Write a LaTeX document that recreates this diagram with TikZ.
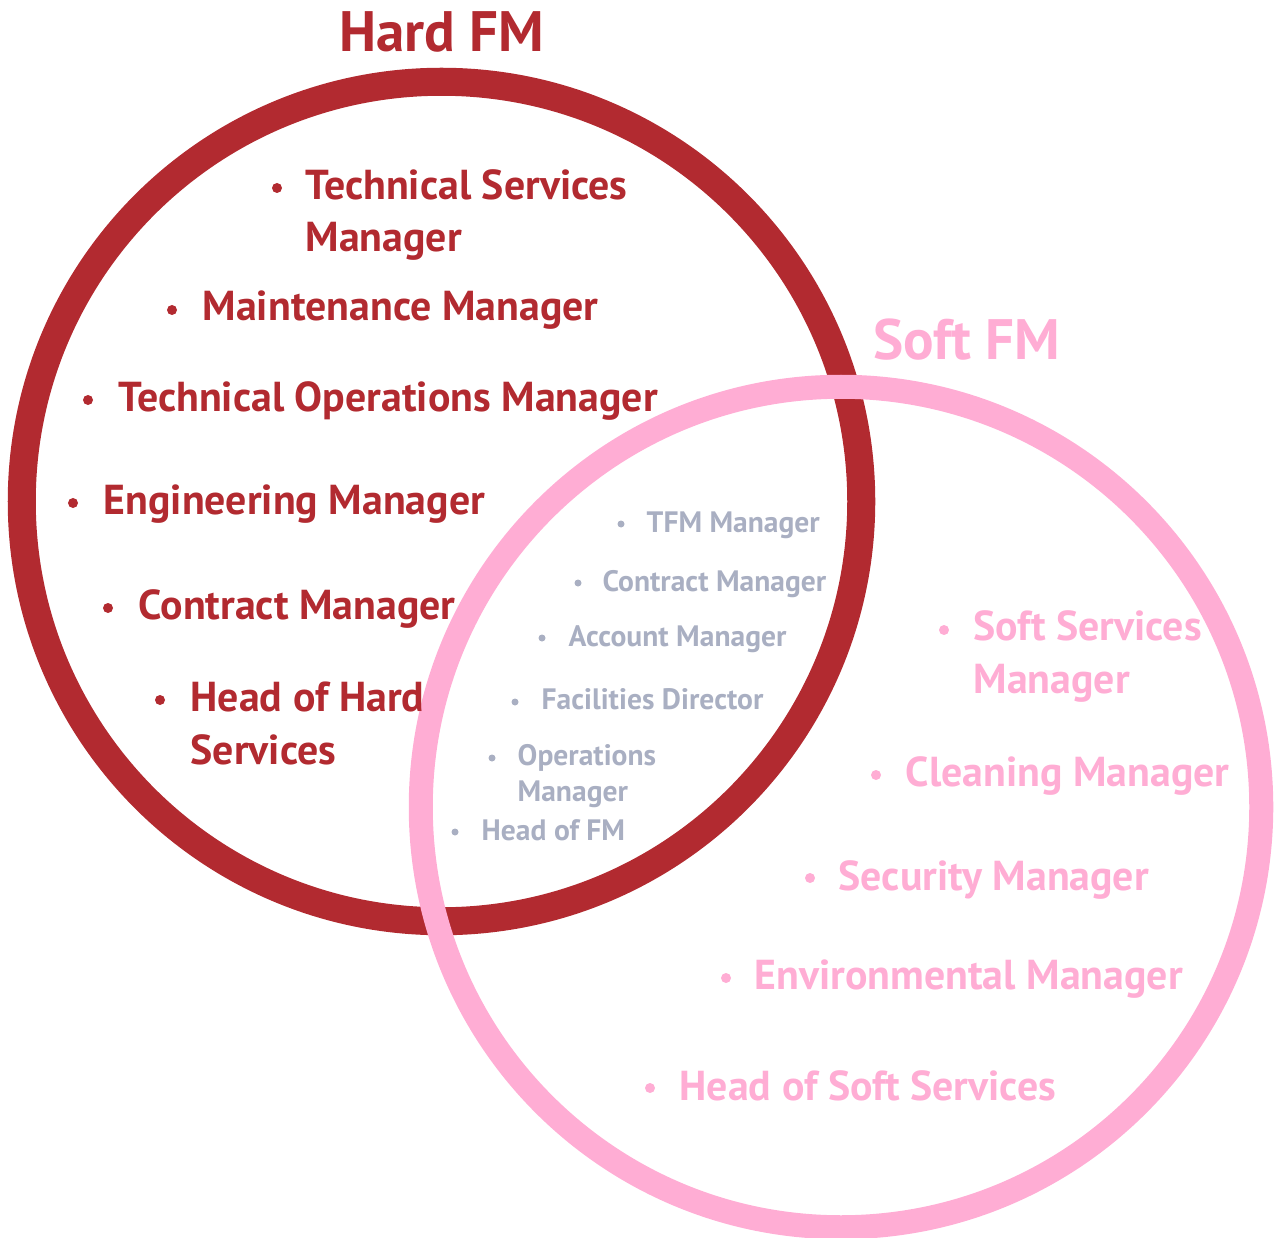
\documentclass[tikz,border=0pt]{standalone}
\usepackage{fontspec}
\setmainfont{PT Sans}
\usepackage{tikz}
\definecolor{hardred}{RGB}{178,42,48}
\definecolor{softpink}{RGB}{255,173,212}
\definecolor{bothgrey}{RGB}{169,175,194}

\begin{document}
\begin{tikzpicture}[x=0.01cm,y=-0.01cm,
    title/.style={font=\bfseries\fontsize{16.2}{18}\selectfont,anchor=base,inner sep=0pt},
    hard/.style={text=hardred,font=\bfseries\fontsize{11.9}{14.8}\selectfont,align=left,anchor=base west,inner sep=0pt},
    soft/.style={text=softpink,font=\bfseries\fontsize{11.9}{14.8}\selectfont,align=left,anchor=base west,inner sep=0pt},
    both/.style={text=bothgrey,font=\bfseries\fontsize{8.4}{10.2}\selectfont,align=left,anchor=base west,inner sep=0pt}]
    \useasboundingbox (0,0) rectangle (1274,1237);
    % circles
    \draw[hardred, line width=0.28cm] (441.5,501.5) circle [radius=4.195cm];
    \draw[softpink, line width=0.24cm] (841,807) circle [radius=4.2cm];
    % titles
    \node[title, text=hardred] (hardfm) at (442,52) {Hard FM};
    \node[title, text=softpink] (softfm) at (967,360) {Soft FM};
    % hard FM roles (base = last line)
    \node[hard] (tsm) at (305,252) {Technical Services\\Manager};
    \node[hard] (mm) at (202,321) {Maintenance Manager};
    \node[hard] (tom) at (118,411) {Technical Operations Manager};
    \node[hard] (em) at (103,514) {Engineering Manager};
    \node[hard] (cmh) at (138,619) {Contract Manager};
    \node[hard] (hhs) at (190,764) {Head of Hard\\Services};
    \foreach \x/\y in {277/188, 172/310, 88/400, 73/503, 108/608, 160/700}
        \fill[hardred] (\x,\y) circle [radius=0.05cm];
    % shared roles
    \node[both] (tfm) at (646,532) {TFM Manager};
    \node[both] (cmb) at (602,591) {Contract Manager};
    \node[both] (am) at (568,646) {Account Manager};
    \node[both] (fd) at (541,709) {Facilities Director};
    \node[both] (om) at (517,801) {Operations\\Manager};
    \node[both] (hfm) at (481,840) {Head of FM};
    \foreach \x/\y in {621/524, 578/583, 542/638, 515/702, 492/758, 455/832}
        \fill[bothgrey] (\x,\y) circle [radius=0.035cm];
    % soft FM roles
    \node[soft] (ssm) at (973,693) {Soft Services\\Manager};
    \node[soft] (clm) at (905,786) {Cleaning Manager};
    \node[soft] (sem) at (838,890) {Security Manager};
    \node[soft] (evm) at (754,989) {Environmental Manager};
    \node[soft] (hss) at (679,1100) {Head of Soft Services};
    \foreach \x/\y in {944/630, 876/775, 810/878, 726/978, 650/1088}
        \fill[softpink] (\x,\y) circle [radius=0.05cm];
\end{tikzpicture}
\end{document}
